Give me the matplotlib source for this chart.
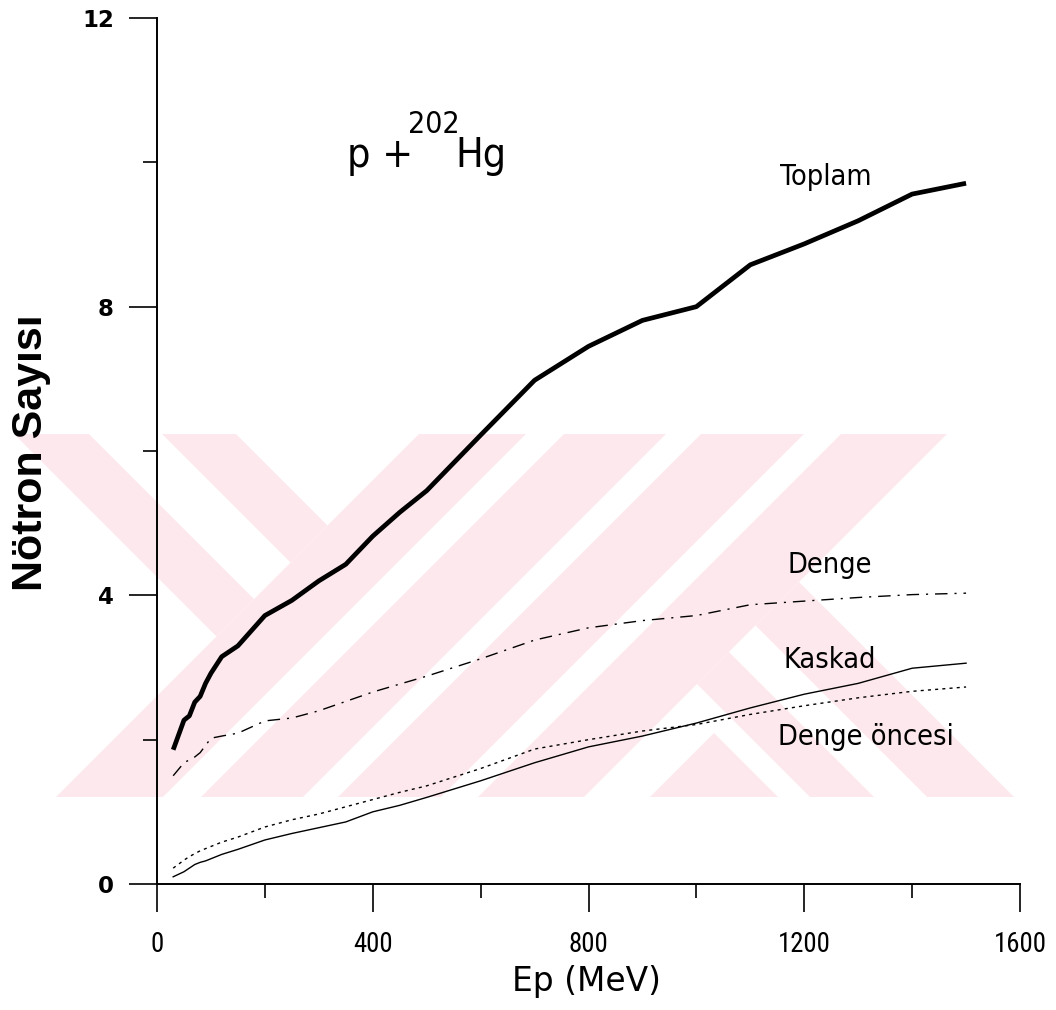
import os
import math
import matplotlib
matplotlib.use("Agg")
import matplotlib.pyplot as plt
from matplotlib import font_manager as fm
from matplotlib.font_manager import FontProperties
from matplotlib.textpath import TextPath
from matplotlib.patches import Polygon
from matplotlib.ticker import FixedLocator

# Proton energy grid (MeV)
ep = [30, 50, 60, 70, 80, 90, 100, 120, 150, 200, 250, 300, 350, 400, 450,
      500, 600, 700, 800, 900, 1000, 1100, 1200, 1300, 1400, 1500]

# Mean neutron multiplicities for p + 202Hg
toplam = [1.86, 2.27, 2.33, 2.52, 2.60, 2.78, 2.92, 3.15, 3.30, 3.72, 3.93, 4.20, 4.43, 4.82, 5.15,
          5.45, 6.22, 6.98, 7.45, 7.81, 8.00, 8.58, 8.87, 9.19, 9.56, 9.71]
denge = [1.50, 1.68, 1.72, 1.76, 1.82, 1.92, 2.02, 2.05, 2.09, 2.26, 2.30, 2.40, 2.53, 2.66, 2.77,
         2.88, 3.12, 3.38, 3.55, 3.65, 3.72, 3.87, 3.92, 3.97, 4.01, 4.03]
kaskad = [0.10, 0.17, 0.22, 0.27, 0.30, 0.32, 0.35, 0.41, 0.48, 0.61, 0.70, 0.78, 0.86, 1.00, 1.09,
          1.20, 1.43, 1.68, 1.90, 2.05, 2.23, 2.44, 2.63, 2.78, 2.99, 3.06]
denge_oncesi = [0.22, 0.33, 0.38, 0.42, 0.46, 0.49, 0.52, 0.58, 0.65, 0.79, 0.89, 0.97, 1.07, 1.17, 1.27,
                1.36, 1.60, 1.87, 2.00, 2.12, 2.21, 2.35, 2.47, 2.58, 2.67, 2.73]

x_major = [0, 400, 800, 1200, 1600]
x_minor = [200, 600, 1000, 1400]
y_major = [0, 4, 8, 12]
y_minor = [2, 6, 10]

W, H, DPI = 1056, 1010, 100


# ---------------------------------------------------------------- fonts
def _regular(f):
    base = os.path.basename(f.fname).lower()
    return not any(k in base for k in ("bold", "italic", "oblique", "light", "thin", "black", "medium"))


def pick_font(preferred, keywords):
    files = {os.path.basename(f.fname).lower(): f.fname for f in fm.fontManager.ttflist}
    for name in preferred:
        if name.lower() in files:
            return files[name.lower()]
    for f in fm.fontManager.ttflist:
        base = os.path.basename(f.fname).lower()
        if _regular(f) and any(k in base for k in keywords) and "mono" not in base and "serif" not in base:
            return f.fname
    return None


narrow_file = pick_font(["LiberationSansNarrow-Regular.ttf", "RobotoCondensed-Regular.ttf",
                         "DejaVuSansCondensed.ttf"], ("narrow", "condensed"))
cond_file = pick_font(["DejaVuSansCondensed.ttf", "RobotoCondensed-Regular.ttf",
                       "LiberationSansNarrow-Regular.ttf"], ("condensed", "narrow"))


def base_props(path):
    if path:
        return FontProperties(fname=path)
    return FontProperties(family="DejaVu Sans")


def fitted(path, sample, width_px, cap_px):
    """Font properties sized so that `sample` spans about width_px with capitals about cap_px high."""
    fp = base_props(path)
    ref = 20.0
    w = TextPath((0, 0), sample, size=ref, prop=fp).get_extents().width * DPI / 72
    c = TextPath((0, 0), "H", size=ref, prop=fp).get_extents().height * DPI / 72
    s_w = ref * width_px / w
    s_h = ref * cap_px / c
    size = s_h if s_w >= s_h else math.sqrt(s_w * s_h)
    fp = fp.copy()
    fp.set_size(size)
    return fp


fig = plt.figure(figsize=(W / DPI, H / DPI), dpi=DPI)
fig.patch.set_facecolor("white")

# ---------------------------------------------------------------- background emblem (pixel space)
bg = fig.add_axes([0, 0, 1, 1], zorder=0)
bg.set_xlim(0, W)
bg.set_ylim(H, 0)
bg.axis("off")


def clip(poly, a, b, c):
    out = []
    n = len(poly)
    for i in range(n):
        p, q = poly[i], poly[(i + 1) % n]
        fp_ = a * p[0] + b * p[1] - c
        fq_ = a * q[0] + b * q[1] - c
        if fp_ <= 0:
            out.append(p)
        if fp_ * fq_ < 0:
            t = fp_ / (fp_ - fq_)
            out.append((p[0] + t * (q[0] - p[0]), p[1] + t * (q[1] - p[1])))
    return out


def band(u=None, v=None, top=434, bottom=797):
    """Region with top<=y<=bottom, u=x+y within u-range, v=x-y within v-range."""
    poly = [(-200, -200), (1300, -200), (1300, 1300), (-200, 1300)]
    poly = clip(poly, 0, -1, -top)
    poly = clip(poly, 0, 1, bottom)
    if u is not None:
        lo, hi = u
        if lo is not None:
            poly = clip(poly, -1, -1, -lo)
        if hi is not None:
            poly = clip(poly, 1, 1, hi)
    if v is not None:
        lo, hi = v
        if lo is not None:
            poly = clip(poly, -1, 1, -lo)
        if hi is not None:
            poly = clip(poly, 1, -1, hi)
    return poly


pink = "#fde9ed"
emblem_pink = [
    band(v=(-420, -198), u=(None, 853)),
    band(u=(853, 1381)),
    band(v=(13, 217), u=(1381, None)),
    band(u=(1447, None), v=(None, -19)),
]
emblem_gaps = [
    band(v=(-345, -272), u=(None, 853)),
    band(u=(960, 998)),
    band(u=(1100, 1135)),
    band(u=(1238, 1275)),
    band(v=(77, 130), u=(1381, None)),
]
for poly in emblem_pink:
    if len(poly) >= 3:
        bg.add_patch(Polygon(poly, closed=True, facecolor=pink, edgecolor="none"))
for poly in emblem_gaps:
    if len(poly) >= 3:
        bg.add_patch(Polygon(poly, closed=True, facecolor="white", edgecolor="none"))

# ---------------------------------------------------------------- main axes
ax = fig.add_axes([157 / W, 1 - 884 / H, (1020 - 157) / W, (884 - 18) / H], zorder=1)
ax.set_facecolor("none")
ax.set_xlim(0, 1600)
ax.set_ylim(0, 12)

ax.plot(ep, toplam, color="black", lw=3.4, solid_joinstyle="round", solid_capstyle="butt", zorder=5)
ax.plot(ep, denge, color="black", lw=1.0, dashes=(9, 5, 1.5, 5), zorder=4)
ax.plot(ep, kaskad, color="black", lw=1.0, zorder=4)
ax.plot(ep, denge_oncesi, color="black", lw=1.0, dashes=(2.2, 3.0), zorder=4)

for side in ("top", "right"):
    ax.spines[side].set_visible(False)
for side in ("left", "bottom"):
    ax.spines[side].set_linewidth(1.4)

ax.xaxis.set_major_locator(FixedLocator(x_major))
ax.xaxis.set_minor_locator(FixedLocator(x_minor))
ax.yaxis.set_major_locator(FixedLocator(y_major))
ax.yaxis.set_minor_locator(FixedLocator(y_minor))
ax.tick_params(axis="both", which="major", direction="out", length=20, width=1.2, color="black")
ax.tick_params(axis="both", which="minor", direction="out", length=10, width=1.2, color="black")
ax.tick_params(axis="x", which="major", pad=14)
ax.tick_params(axis="y", which="major", pad=11)

xtick_fp = fitted(narrow_file, "1600", 50, 19)
ytick_fp = FontProperties(family="DejaVu Sans", weight="bold", size=16.5)
ax.set_xticklabels([str(v) for v in x_major], fontproperties=xtick_fp)
ax.set_yticklabels([str(v) for v in y_major], fontproperties=ytick_fp)

# Axis titles
fig.text(31 / W, 1 - 453 / H, "Nötron Sayısı", rotation=90, ha="center", va="center",
         fontproperties=FontProperties(family=["Liberation Sans", "DejaVu Sans"], weight="bold", size=31))
fig.text(586 / W, 1 - 991 / H, "Ep (MeV)", ha="center", va="baseline",
         fontproperties=fitted(None, "Ep (MeV)", 159, 24))

# Reaction label
big_fp = fitted(cond_file, "Hg", 44, 30)
sup_fp = fitted(cond_file, "202", 45, 23)
ax.text(352, 9.93, "p +", ha="left", va="baseline", fontproperties=big_fp)
ax.text(465, 10.41, "202", ha="left", va="baseline", fontproperties=sup_fp)
ax.text(554, 9.93, "Hg", ha="left", va="baseline", fontproperties=big_fp)

# Curve labels
label_fp = fitted(cond_file, "Denge öncesi", 170, 21)
ax.text(1240, 9.69, "Toplam", ha="center", va="baseline", fontproperties=label_fp)
ax.text(1248, 4.31, "Denge", ha="center", va="baseline", fontproperties=label_fp)
ax.text(1248, 2.99, "Kaskad", ha="center", va="baseline", fontproperties=label_fp)
ax.text(1314, 1.93, "Denge öncesi", ha="center", va="baseline", fontproperties=label_fp)

fig.savefig("out.png", dpi=DPI)
